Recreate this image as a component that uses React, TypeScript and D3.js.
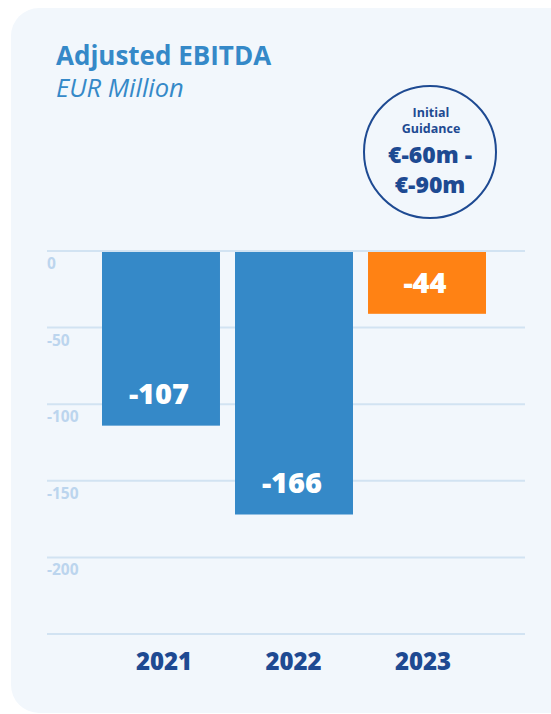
import React from "react";
import * as d3 from "d3";

const categories = ["2021", "2022", "2023"];
const valueLabels = ["-107", "-166", "-44"];
// bar ends as drawn against the axis in the reference
const barValues = [-114, -172, -41];
const barColors = ["#3589c8", "#3589c8", "#ff8214"];
const tickValues = [0, -50, -100, -150, -200, -250];
const tickLabels = ["0", "-50", "-100", "-150", "-200", ""];
const labelInside = [false, false, true];

const W = 551;
const H = 714;

export default function App() {
  const y = d3.scaleLinear().domain([0, -250]).range([251, 634]);
  const x = d3
    .scaleBand<string>()
    .domain(categories)
    .range([102, 486])
    .paddingInner(0.113)
    .paddingOuter(0);
  const xl = d3.scalePoint<string>().domain(categories).range([164, 423]);
  const font = "'Open Sans', 'Noto Sans', sans-serif";
  const navy = "#1e4a92";

  return (
    <div style={{ position: "absolute", left: 0, top: 0 }}>
      <svg width={W} height={H} style={{ display: "block" }}>
        <rect x={0} y={0} width={W} height={H} fill="#ffffff" />
        <rect x={11} y={8} width={W + 40} height={705} rx={28} ry={28} fill="#f2f7fc" />
        <text x={56} y={65} fontFamily={font} fontWeight={700} fontSize={26} fill="#3589c8">
          Adjusted EBITDA
        </text>
        <text x={56} y={97} fontFamily={font} fontStyle="italic" fontSize={25.5} fill="#3589c8">
          EUR Million
        </text>

        {/* guidance circle */}
        <circle cx={430} cy={152} r={66} fill="#f2f7fc" stroke={navy} strokeWidth={2} />
        <g fontFamily={font} fontWeight={700} fill={navy} textAnchor="middle">
          <text x={431} y={117} fontSize={12.5}>Initial</text>
          <text x={431} y={133} fontSize={12.5}>Guidance</text>
          <text x={430} y={163} fontSize={23} fontWeight={800}>€-60m -</text>
          <text x={430} y={193} fontSize={23} fontWeight={800}>€-90m</text>
        </g>

        {/* grid */}
        {tickValues.map((t, i) => (
          <g key={t}>
            <line x1={47} x2={525} y1={y(t)} y2={y(t)} stroke="#d2e3f2" strokeWidth={2} />
            <text x={47} y={y(t) + 18} fontFamily={font} fontWeight={700} fontSize={15.5} fill="#bcd5ee">
              {tickLabels[i]}
            </text>
          </g>
        ))}

        {/* bars */}
        {categories.map((c, i) => {
          const top = y(0) + 1;
          const bottom = y(barValues[i]);
          const cx = (x(c) as number) + x.bandwidth() / 2;
          const ly = labelInside[i] ? (top + bottom) / 2 + 10.5 : bottom - 22;
          return (
            <g key={c}>
              <rect x={x(c)} y={top} width={x.bandwidth()} height={bottom - top} fill={barColors[i]} />
              <text x={cx - 2} y={ly} textAnchor="middle" fontFamily={font} fontWeight={800} fontSize={29} fill="#ffffff">
                {valueLabels[i]}
              </text>
              <text x={xl(c)} y={670} textAnchor="middle" fontFamily={font} fontWeight={800} fontSize={24} fill={navy}>
                {c}
              </text>
            </g>
          );
        })}
      </svg>
    </div>
  );
}
